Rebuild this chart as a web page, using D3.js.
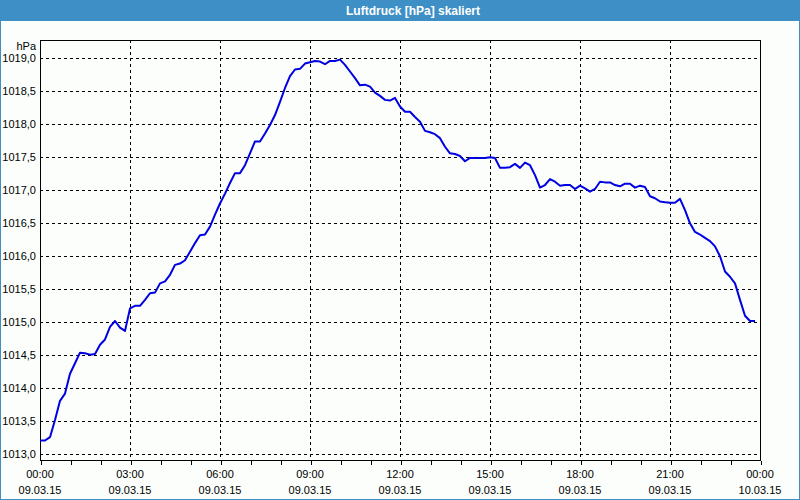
<!DOCTYPE html>
<html>
<head>
<meta charset="utf-8">
<script src="https://cdn.jsdelivr.net/npm/d3@7"></script>
<style>
  html, body { margin: 0; padding: 0; background: #fbfefb; }
  svg { display: block; }
</style>
</head>
<body>
<svg id="chart" width="800" height="500"></svg>
<script>
// ---- data ----
const chartTitle = "Luftdruck [hPa] skaliert";
const unitLabel = "hPa";
const startTime = "2015-03-09T00:00:00";
const stepMinutes = 10; // sampling interval of the series
const pressure = [
  1013.21, 1013.21, 1013.26, 1013.52, 1013.81, 1013.92, 1014.22, 1014.38, 1014.54, 1014.53,
  1014.51, 1014.52, 1014.66, 1014.74, 1014.93, 1015.02, 1014.92, 1014.87, 1015.21, 1015.25,
  1015.25, 1015.34, 1015.44, 1015.45, 1015.59, 1015.62, 1015.72, 1015.87, 1015.89, 1015.94,
  1016.07, 1016.20, 1016.32, 1016.33, 1016.45, 1016.63, 1016.80, 1016.95, 1017.11, 1017.26,
  1017.26, 1017.38, 1017.56, 1017.74, 1017.74, 1017.86, 1017.99, 1018.14, 1018.34, 1018.55,
  1018.73, 1018.83, 1018.84, 1018.92, 1018.94, 1018.96, 1018.95, 1018.91, 1018.96, 1018.96,
  1018.98, 1018.90, 1018.80, 1018.70, 1018.59, 1018.60, 1018.57, 1018.48, 1018.43, 1018.37,
  1018.36, 1018.40, 1018.27, 1018.19, 1018.19, 1018.11, 1018.04, 1017.90, 1017.88, 1017.85,
  1017.79, 1017.66, 1017.56, 1017.55, 1017.52, 1017.44, 1017.49, 1017.49, 1017.49, 1017.49,
  1017.50, 1017.49, 1017.34, 1017.34, 1017.35, 1017.40, 1017.34, 1017.42, 1017.38, 1017.23,
  1017.04, 1017.08, 1017.17, 1017.13, 1017.07, 1017.08, 1017.08, 1017.02, 1017.07, 1017.03,
  1016.98, 1017.02, 1017.13, 1017.12, 1017.12, 1017.08, 1017.06, 1017.10, 1017.10, 1017.04,
  1017.07, 1017.05, 1016.91, 1016.88, 1016.83, 1016.82, 1016.81, 1016.81, 1016.87, 1016.70,
  1016.50, 1016.37, 1016.33, 1016.28, 1016.23, 1016.15, 1016.00, 1015.77, 1015.69, 1015.59,
  1015.34, 1015.10, 1015.02, 1015.02
];
const yTicks = [1013.0, 1013.5, 1014.0, 1014.5, 1015.0, 1015.5, 1016.0, 1016.5, 1017.0, 1017.5, 1018.0, 1018.5, 1019.0];
const xDomain = ["2015-03-09T00:00:00", "2015-03-10T00:00:00"];
const yDomain = [1012.914, 1019.277];

// ---- layout ----
const W = 800, H = 500;
const plot = { left: 40, top: 40, right: 760, bottom: 460 };
const svg = d3.select("#chart");
const font = "'Liberation Sans', Arial, sans-serif";

svg.append("rect").attr("x", 0).attr("y", 0).attr("width", W).attr("height", H).attr("fill", "#fbfefb");

// title bar
svg.append("rect").attr("x", 0).attr("y", 0).attr("width", W).attr("height", 21).attr("fill", "#3d8fc6");
svg.append("text").attr("x", 413).attr("y", 15).attr("text-anchor", "middle")
  .attr("font-family", font).attr("font-size", 12).attr("font-weight", "bold")
  .attr("fill", "#ffffff").text(chartTitle);

// outer border
svg.append("rect").attr("x", 0.5).attr("y", 0.5).attr("width", W - 1).attr("height", H - 1)
  .attr("fill", "none").attr("stroke", "#3d8fc6").attr("stroke-width", 1);

const parse = d3.isoParse;
const x = d3.scaleTime().domain(xDomain.map(parse)).range([plot.left, plot.right]);
const y = d3.scaleLinear().domain(yDomain).range([plot.bottom, plot.top]);

const t0 = parse(startTime);
const series = pressure.map((v, i) => ({ t: d3.timeMinute.offset(t0, i * stepMinutes), v }));

// grid
const g = svg.append("g");
const majorTimes = d3.timeHour.every(3).range(x.domain()[0], d3.timeMinute.offset(x.domain()[1], 1));
g.selectAll("line.vg").data(majorTimes.filter((d, i) => i > 0 && i < majorTimes.length - 1))
  .join("line").attr("class", "vg")
  .attr("x1", d => Math.round(x(d)) + 0.5).attr("x2", d => Math.round(x(d)) + 0.5)
  .attr("y1", plot.top).attr("y2", plot.bottom)
  .attr("stroke", "#000").attr("stroke-dasharray", "3,3").attr("shape-rendering", "crispEdges");
g.selectAll("line.hg").data(yTicks).join("line").attr("class", "hg")
  .attr("x1", plot.left).attr("x2", plot.right)
  .attr("y1", d => Math.round(y(d)) + 0.5).attr("y2", d => Math.round(y(d)) + 0.5)
  .attr("stroke", "#000").attr("stroke-dasharray", "3,3").attr("shape-rendering", "crispEdges");

// frame
svg.append("rect").attr("x", plot.left + 0.5).attr("y", plot.top + 0.5)
  .attr("width", plot.right - plot.left).attr("height", plot.bottom - plot.top)
  .attr("fill", "none").attr("stroke", "#000").attr("shape-rendering", "crispEdges");

// x axis ticks (hourly) and labels
const xAxis = d3.axisBottom(x).ticks(d3.timeHour.every(1)).tickSize(4).tickFormat("");
const xa = svg.append("g").attr("transform", `translate(0.5,${plot.bottom + 0.5})`).call(xAxis);
xa.select(".domain").remove();
xa.selectAll("line").attr("stroke", "#000").attr("shape-rendering", "crispEdges");

const fmtTime = d3.timeFormat("%H:%M");
const fmtDate = d3.timeFormat("%d.%m.%y");
const lbl = svg.append("g").attr("font-family", font).attr("font-size", 11).attr("fill", "#000");
lbl.selectAll("text.xt").data(majorTimes).join("text").attr("class", "xt")
  .attr("x", d => x(d)).attr("y", 478).attr("text-anchor", "middle").text(d => fmtTime(d));
lbl.selectAll("text.xd").data(majorTimes).join("text").attr("class", "xd")
  .attr("x", d => x(d)).attr("y", 494).attr("text-anchor", "middle").text(d => fmtDate(d));

// y labels
const fmtY = v => d3.format(".1f")(v).replace(".", ",");
lbl.selectAll("text.yt").data(yTicks).join("text").attr("class", "yt")
  .attr("x", 36).attr("y", d => y(d) + 4).attr("text-anchor", "end").text(d => fmtY(d));
lbl.append("text").attr("x", 36).attr("y", 50).attr("text-anchor", "end").text(unitLabel);

// line
const line = d3.line().x(d => x(d.t)).y(d => y(d.v));
svg.append("path").datum(series).attr("d", line)
  .attr("fill", "none").attr("stroke", "#0000e0").attr("stroke-width", 2)
  .attr("stroke-linejoin", "round");
</script>
</body>
</html>
